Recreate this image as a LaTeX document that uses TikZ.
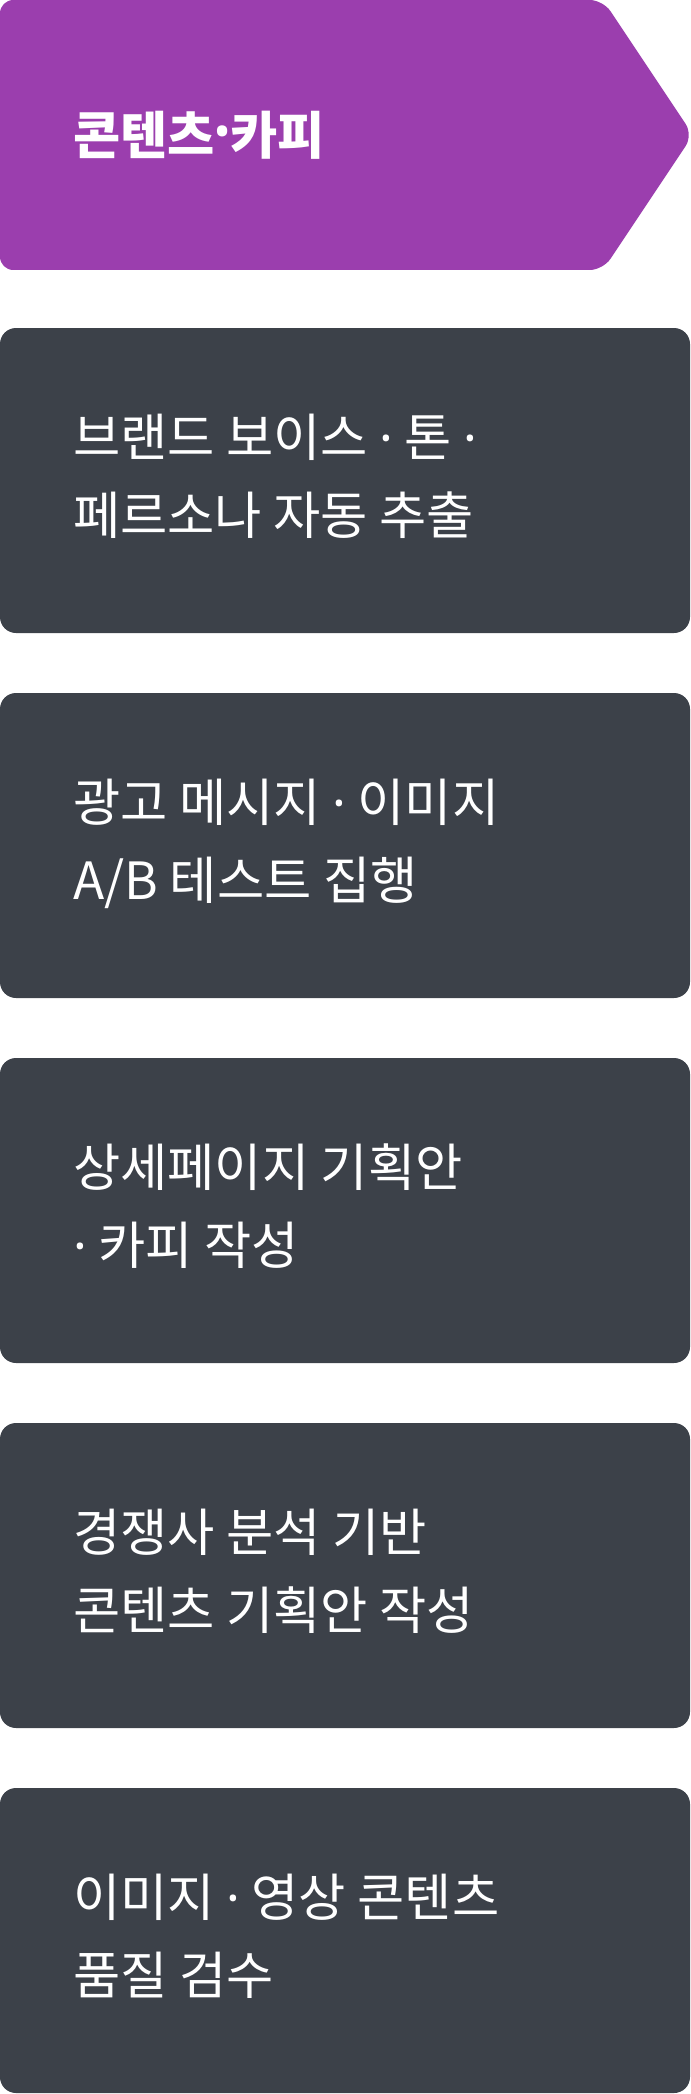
\documentclass[tikz,border=0pt]{standalone}
\usepackage{fontspec}
\setmainfont{Noto Sans CJK KR}
\newfontfamily\dotfont{Noto Sans}
\newcommand{\md}{{\dotfont ·}}
\newcommand{\mdbold}{\kern-2.5pt\raisebox{-4.5pt}{\dotfont\bfseries\fontsize{62}{62}\selectfont ·}\kern-2.5pt}
\definecolor{headpurple}{HTML}{9B3EAE}
\definecolor{boxgray}{HTML}{3C4149}
\begin{document}
\begin{tikzpicture}[x=0.75pt,y=-0.75pt,
  boxstyle/.style={fill=boxgray,draw=none,rounded corners=12pt,minimum width=517.5pt,minimum height=228.75pt,inner sep=0pt},
  linetext/.style={anchor=base west,text=white,inner sep=0pt,font=\fontsize{38.5}{46}\selectfont},
  headtext/.style={anchor=base west,text=white,inner sep=0pt,font=\fontsize{38.5}{46}\selectfont\bfseries}]
\useasboundingbox (0,0) rectangle (690,2094);
% header arrow
\fill[headpurple,rounded corners=10pt] (0,0) -- (603,0) -- (693,135) -- (603,270) -- (0,270) -- cycle;
\node[headtext] (head) at (73,155) {콘텐츠\mdbold 카피};
% boxes
\foreach \i/\t in {1/328,2/693,3/1058,4/1423,5/1788}{
  \node[boxstyle] (b\i) at (345,\t+152.5) {};
}
\node[linetext] (b1a) at (73,456) {브랜드 보이스 \md{} 톤 \md};
\node[linetext] (b1b) at (73,534) {페르소나 자동 추출};
\node[linetext] (b2a) at (73,821) {광고 메시지 \md{} 이미지};
\node[linetext] (b2b) at (73,899) {A/B 테스트 집행};
\node[linetext] (b3a) at (73,1186) {상세페이지 기획안};
\node[linetext] (b3b) at (73,1264) {\md{} 카피 작성};
\node[linetext] (b4a) at (73,1551) {경쟁사 분석 기반};
\node[linetext] (b4b) at (73,1629) {콘텐츠 기획안 작성};
\node[linetext] (b5a) at (73,1916) {이미지 \md{} 영상 콘텐츠};
\node[linetext] (b5b) at (73,1994) {품질 검수};
\end{tikzpicture}
\end{document}
